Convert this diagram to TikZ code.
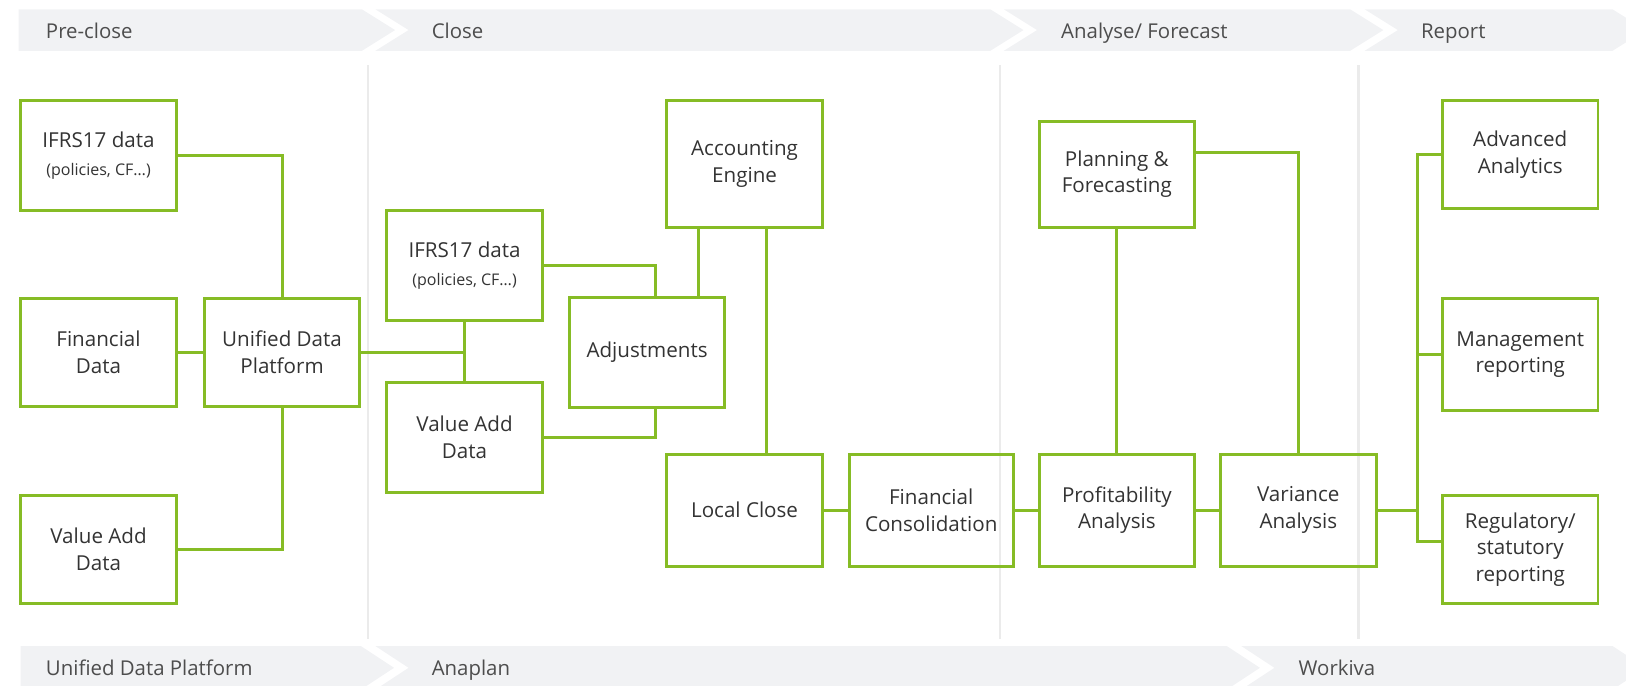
\documentclass[tikz,border=0pt]{standalone}
\usepackage{fontspec}
\setmainfont{Open Sans}
\usepackage{xcolor}
\usepackage{tikz}
\usetikzlibrary{calc}

\definecolor{dgreen}{HTML}{86BC25}
\definecolor{band}{HTML}{F1F2F4}
\definecolor{sepline}{HTML}{EBEBEB}
\definecolor{boxtext}{HTML}{333333}
\definecolor{headtext}{HTML}{4D4D4D}

\tikzset{
  stagebox/.style={draw=dgreen, line width=1.6pt, minimum width=3cm, align=center,
    text=boxtext, inner sep=2pt, font=\fontsize{11.3}{14.7}\selectfont},
  link/.style={draw=dgreen, line width=1.6pt},
  headlabel/.style={anchor=base west, inner sep=0pt, text=headtext,
    font=\fontsize{11.2}{13}\selectfont}
}
\newcommand{\subnote}[1]{{\fontsize{8.8}{11}\selectfont #1}}

\begin{document}
\begin{tikzpicture}[x=0.02cm,y=-0.02cm]
      \useasboundingbox (0,0) rectangle (1568,661);
      % phase bands
      \fill [band] (18,9) -- (349,9) -- (381,29) -- (349,49) -- (18,49) -- cycle;
      \fill [band] (362,9) -- (955,9) -- (987,29) -- (955,49) -- (362,49) -- (394,29) -- cycle;
      \fill [band] (968,9) -- (1302,9) -- (1334,29) -- (1302,49) -- (968,49) -- (1000,29) -- cycle;
      \fill [band] (1316,9) -- (1555,9) -- (1587,29) -- (1555,49) -- (1316,49) -- (1348,29) -- cycle;
      \fill [band] (20,623) -- (348,623) -- (380,644) -- (348,665) -- (20,665) -- cycle;
      \fill [band] (362,623) -- (1183,623) -- (1215,644) -- (1183,665) -- (362,665) -- (394,644) -- cycle;
      \fill [band] (1197,623) -- (1555,623) -- (1587,644) -- (1555,665) -- (1197,665) -- (1229,644) -- cycle;
      \node [headlabel] (hPre) at (44,37) {Pre-close};
      \node [headlabel] (hClose) at (416,37) {Close};
      \node [headlabel] (hAnalyse) at (1023,37) {Analyse/ Forecast};
      \node [headlabel] (hReport) at (1370,37) {Report};
      \node [headlabel] (hUdp) at (44,651) {Unified Data Platform};
      \node [headlabel] (hAnaplan) at (416,651) {Anaplan};
      \node [headlabel] (hWorkiva) at (1252,651) {Workiva};
      % column separators
      \foreach \sx in {355,964,1310}
        \draw [sepline, line width=1.2pt] (\sx,63) -- (\sx,616);
      % boxes
      \node [stagebox, minimum height=2.12cm] (ifrsA) at (95,150) {IFRS17 data\\[1pt]\subnote{(policies, CF…)}};
      \node [stagebox, minimum height=2.08cm] (finA) at (95,340) {Financial\\Data};
      \node [stagebox, minimum height=2.08cm] (vadA) at (95,530) {Value Add\\Data};
      \node [stagebox, minimum height=2.08cm] (udp) at (272,340) {Unified Data\\Platform};
      \node [stagebox, minimum height=2.12cm] (ifrsB) at (448,256) {IFRS17 data\\[1pt]\subnote{(policies, CF…)}};
      \node [stagebox, minimum height=2.12cm] (vadB) at (448,422) {Value Add\\Data};
      \node [stagebox, minimum height=2.12cm] (adj) at (624,340) {Adjustments};
      \node [stagebox, minimum height=2.44cm] (acc) at (718,158) {Accounting\\Engine};
      \node [stagebox, minimum height=2.16cm] (local) at (718,492) {Local Close};
      \node [stagebox, minimum height=2.16cm, minimum width=3.16cm] (cons) at (898,492) {Financial\\Consolidation};
      \node [stagebox, minimum height=2.04cm] (plan) at (1077,168) {Planning \&\\Forecasting};
      \node [stagebox, minimum height=2.16cm] (prof) at (1077,492) {Profitability\\Analysis};
      \node [stagebox, minimum height=2.16cm] (var) at (1252,492) {Variance\\Analysis};
      \node [stagebox, minimum height=2.08cm] (adv) at (1466,149) {Advanced\\Analytics};
      \node [stagebox, minimum height=2.16cm] (mgmt) at (1466,342) {Management\\reporting};
      \node [stagebox, minimum height=2.08cm] (reg) at (1466,530) {Regulatory/\\statutory\\reporting};
      % connectors
      \draw [link] (ifrsA.east) -| (udp.north);
      \draw [link] (finA.east) -- (udp.west);
      \draw [link] (udp.south) |- (vadA.east);
      \draw [link] (ifrsB.south) -- (vadB.north);
      \draw [link] (udp.east) -- (udp.east -| ifrsB.south);
      \draw [link] (ifrsB.east) -| ([xshift=0.16cm]adj.north);
      \draw [link] (vadB.east) -| ([xshift=0.16cm]adj.south);
      \draw [link] ([xshift=1cm]adj.north) -- ([xshift=1cm]adj.north |- acc.south);
      \draw [link] ([xshift=0.42cm]acc.south) -- ([xshift=0.42cm]local.north);
      \draw [link] (local.east) -- (cons.west);
      \draw [link] (cons.east) -- (prof.west);
      \draw [link] (prof.east) -- (var.west);
      \draw [link] (plan.south) -- (prof.north);
      \draw [link] ([yshift=0.42cm]plan.east) -| (var.north);
      \coordinate (bus) at (1367,340);
      \coordinate (regIn) at ([yshift=0.16cm]reg.west);
      \draw [link] (adv.west) -| (bus |- regIn) -- (regIn);
      \draw [link] (var.east) -- (var.east -| bus);
      \draw [link] (mgmt.west) -- (mgmt.west -| bus);
\end{tikzpicture}
\end{document}
